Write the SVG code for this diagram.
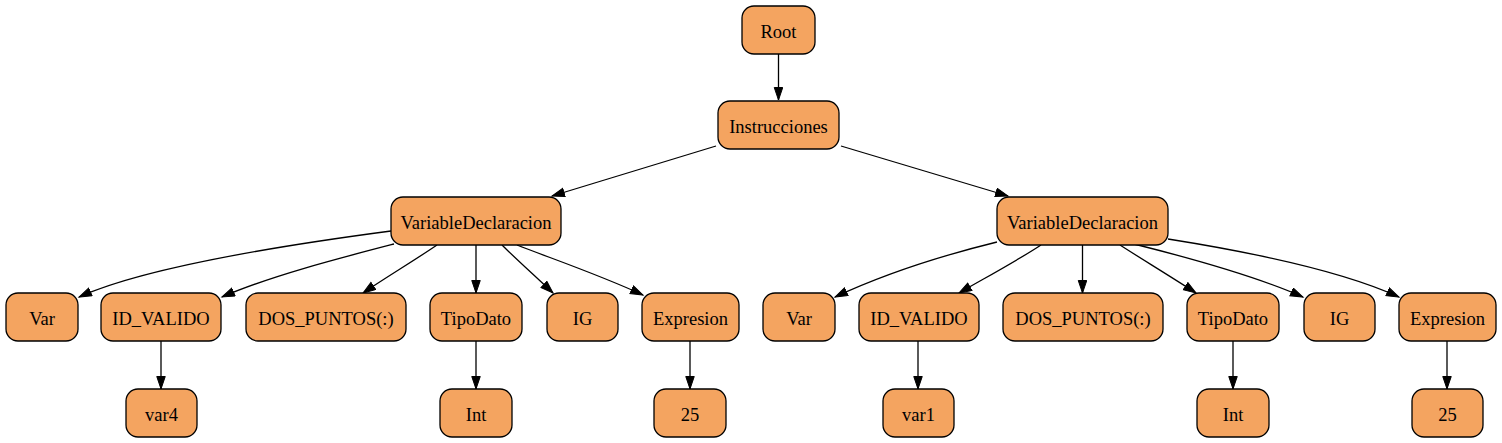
<svg xmlns="http://www.w3.org/2000/svg" width="1502" height="443" viewBox="0 0 1502 443">
<style>
.n rect{fill:#f4a460;stroke:#000;stroke-width:1.3}
.n text{font-family:'Liberation Serif','Times New Roman',serif;font-size:18.5px;fill:#000;text-anchor:middle}
.e path{fill:none;stroke:#000;stroke-width:1.3;marker-end:url(#a)}
</style>
<defs>
<marker id="a" markerUnits="userSpaceOnUse" markerWidth="15" markerHeight="11" refX="13" refY="4.75" orient="auto">
<path d="M0.5,0.5 L13,4.75 L0.5,9 z" fill="#000" stroke="#000" stroke-width="1"/>
</marker>
</defs>
<rect width="1502" height="443" fill="#fff"/>
<g id="edges" class="e">
<path d="M778.5,54 L778.5,100"/>
<path d="M716,146 L552,196"/>
<path d="M841,146 L1008,196"/>
<path d="M391,231 C300,243 150,265 79,297"/>
<path d="M394,244 C340,258 270,276 222,297"/>
<path d="M437,245 C415,260 385,278 363,293"/>
<path d="M476,245 L476,293"/>
<path d="M502,245 C515,258 535,276 553,293"/>
<path d="M517,245 C550,258 600,275 643,295"/>
<path d="M997,242 C940,256 880,276 835,297"/>
<path d="M1041,245 C1020,259 985,278 959,293"/>
<path d="M1082.5,245 L1082.5,293"/>
<path d="M1120,245 C1140,258 1170,276 1196,293"/>
<path d="M1134,244 C1190,258 1260,278 1303,297"/>
<path d="M1168,239 C1250,252 1340,270 1399,297"/>
<path d="M161,341 L161,389"/>
<path d="M476,341 L476,389"/>
<path d="M690,341 L690,389"/>
<path d="M918,341 L918,389"/>
<path d="M1233,341 L1233,389"/>
<path d="M1447,341 L1447,389"/>
</g>
<g id="root" class="n"><rect x="742" y="6" width="73" height="48" rx="12"/><text x="778.5" y="38">Root</text></g>
<g id="instrucciones" class="n"><rect x="718" y="101" width="121" height="48" rx="12"/><text x="778.5" y="133">Instrucciones</text></g>
<g id="vd1" class="n"><rect x="391" y="197" width="170" height="48" rx="12"/><text x="476" y="229">VariableDeclaracion</text></g>
<g id="vd2" class="n"><rect x="997" y="197" width="171" height="48" rx="12"/><text x="1082.5" y="229">VariableDeclaracion</text></g>
<g id="var1n" class="n"><rect x="6" y="293" width="72" height="48" rx="12"/><text x="42" y="325">Var</text></g>
<g id="id1" class="n"><rect x="101" y="293" width="120" height="48" rx="12"/><text x="161" y="325">ID_VALIDO</text></g>
<g id="dp1" class="n"><rect x="246" y="293" width="160" height="48" rx="12"/><text x="326" y="325">DOS_PUNTOS(:)</text></g>
<g id="td1" class="n"><rect x="430" y="293" width="92" height="48" rx="12"/><text x="476" y="325">TipoDato</text></g>
<g id="ig1" class="n"><rect x="547" y="293" width="71" height="48" rx="12"/><text x="582.5" y="325">IG</text></g>
<g id="ex1" class="n"><rect x="642" y="293" width="97" height="48" rx="12"/><text x="690.5" y="325">Expresion</text></g>
<g id="var2n" class="n"><rect x="763" y="293" width="72" height="48" rx="12"/><text x="799" y="325">Var</text></g>
<g id="id2" class="n"><rect x="859" y="293" width="120" height="48" rx="12"/><text x="919" y="325">ID_VALIDO</text></g>
<g id="dp2" class="n"><rect x="1003" y="293" width="160" height="48" rx="12"/><text x="1083" y="325">DOS_PUNTOS(:)</text></g>
<g id="td2" class="n"><rect x="1187" y="293" width="92" height="48" rx="12"/><text x="1233" y="325">TipoDato</text></g>
<g id="ig2" class="n"><rect x="1304" y="293" width="71" height="48" rx="12"/><text x="1339.5" y="325">IG</text></g>
<g id="ex2" class="n"><rect x="1399" y="293" width="97" height="48" rx="12"/><text x="1447.5" y="325">Expresion</text></g>
<g id="var4" class="n"><rect x="126" y="389" width="71" height="48" rx="12"/><text x="161.5" y="421">var4</text></g>
<g id="int1" class="n"><rect x="440" y="389" width="72" height="48" rx="12"/><text x="476" y="421">Int</text></g>
<g id="n25a" class="n"><rect x="654" y="389" width="72" height="48" rx="12"/><text x="690" y="421">25</text></g>
<g id="var1" class="n"><rect x="883" y="389" width="71" height="48" rx="12"/><text x="918.5" y="421">var1</text></g>
<g id="int2" class="n"><rect x="1197" y="389" width="72" height="48" rx="12"/><text x="1233" y="421">Int</text></g>
<g id="n25b" class="n"><rect x="1412" y="389" width="71" height="48" rx="12"/><text x="1447.5" y="421">25</text></g>
</svg>
